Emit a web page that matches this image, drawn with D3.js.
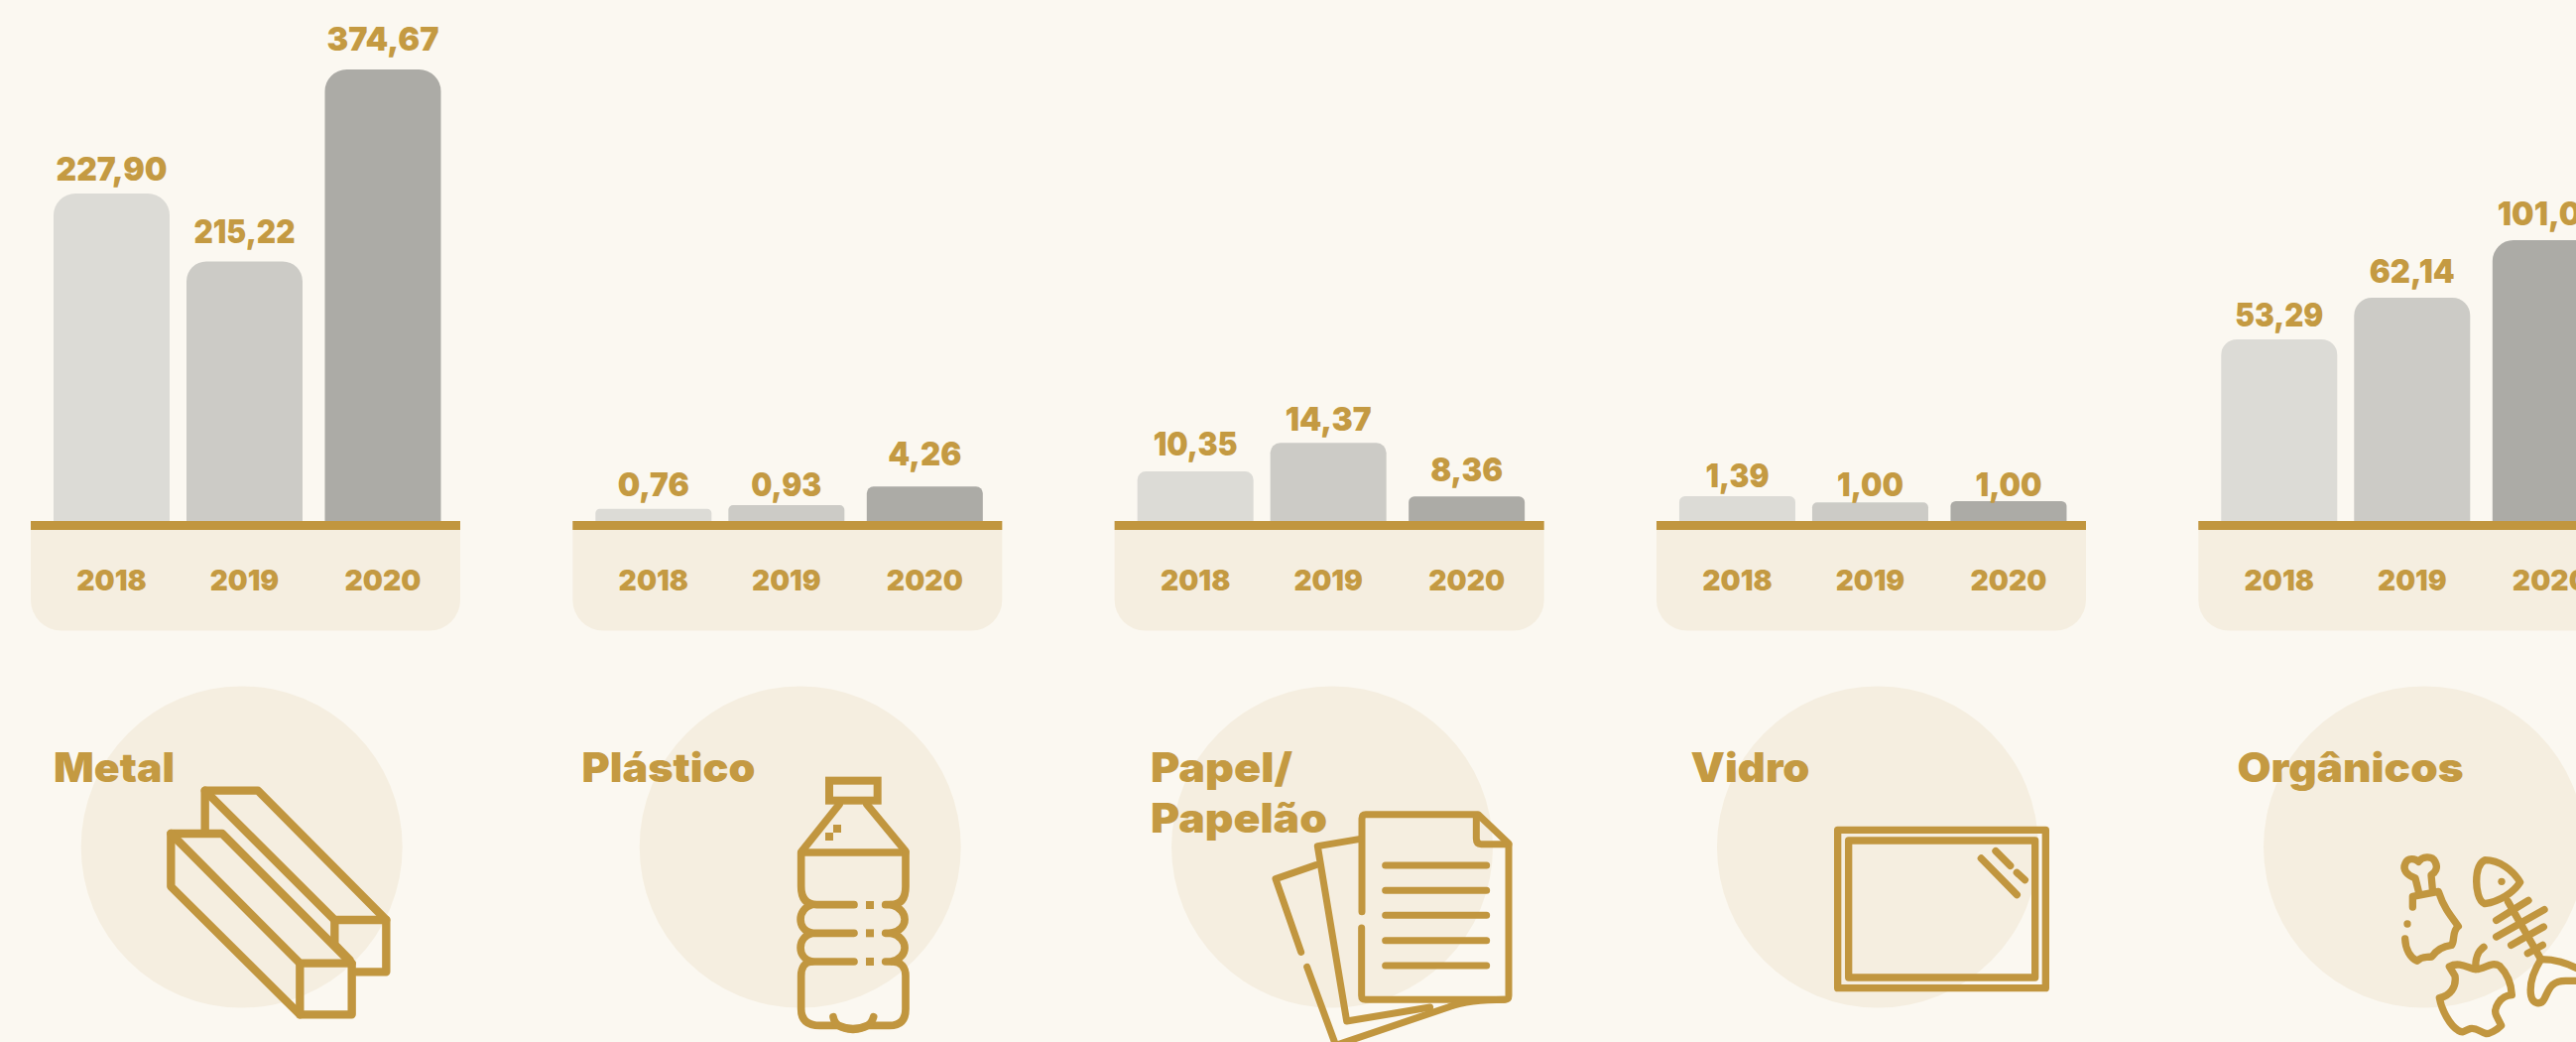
<!DOCTYPE html>
<html lang="pt">
<head>
<meta charset="utf-8">
<script src="https://cdn.jsdelivr.net/npm/d3@7/dist/d3.min.js"></script>
<style>
html,body{margin:0;padding:0;background:#fbf8f1;overflow:hidden}
svg{display:block}
text{font-family:Inter,"Open Sans",sans-serif;font-weight:900;fill:#c49a42}
</style>
</head>
<body>
<svg id="chart" width="2597" height="1050"></svg>
<script>
// ---- data ----
const years = ["2018", "2019", "2020"];
const categories = ["Metal", "Plástico", "Papel/\nPapelão", "Vidro", "Orgânicos"];
// printed values
const metalValues = [227.90, 215.22, 374.67];
const plasticValues = [0.76, 0.93, 4.26];
const paperValues = [10.35, 14.37, 8.36];
const glassValues = [1.39, 1.00, 1.00];
const organicValues = [53.29, 62.14, 101.00];
// drawn bar lengths (the reference's bars are not to scale with the printed values)
const metalBars = [330, 261.5, 455];
const plasticBars = [12.3, 16, 34.7];
const paperBars = [50, 78.7, 24.7];
const glassBars = [25, 18.7, 20];
const organicBars = [183, 225, 283];

const printed = [metalValues, plasticValues, paperValues, glassValues, organicValues];
const drawn = [metalBars, plasticBars, paperBars, glassBars, organicBars];

// ---- layout & style ----
const GOLD = "#c1963f", PALE = "#f5eee0";
const barColors = ["#dcdbd6", "#cccbc6", "#acaba6"];
const baseY = 525, axisH = 9, bandBottom = 635.5, bandW = 433, bandR = 31, barW = 117;
const yearBaseline = 594.5, circleR = 162, circleY = 853.5;
const panelX = d3.scaleLinear().domain([0, 4]).range([31, 2216.3]);
const barCenter = d3.scaleOrdinal().domain(years).range([81.5, 215.5, 355]);
const y = d3.scaleLinear().domain([0, 500]).range([baseY, baseY - 500]);
const radius = d3.scaleLinear().domain([0, 50, 300]).range([3, 8.5, 22]).clamp(true);
const comma = d3.formatLocale({decimal: ",", thousands: ".", grouping: [3], currency: ["", ""]}).format(".2f");
// gap between bar top and its value's baseline, as seen in the reference
const labelGaps = [[13, 18.5, 19], [12.7, 9, 21], [16, 12, 15], [9.3, 6, 5], [12.7, 14.6, 15]];
// rendered text widths, fitted to the reference's wider display face
const labelWidths = [[112, 102, 113], [72, 71, 74], [85, 87, 73], [64, 67, 67], [89, 86, 107]];
const yearWidths = [70.5, 69.5, 77];
const circleOffset = [212.7, 229.4, 219.4, 223, 227.7];
const titleX = [54, 586.5, 1160, 1704.5, 2255.5];
const titleWidths = [[122], [175], [143, 178], [120], [228]];

const svg = d3.select("#chart");
svg.append("rect").attr("width", 2597).attr("height", 1050).attr("fill", "#fbf8f1");

function topRounded(x, yTop, w, yBot, r) {
  const p = d3.path();
  p.moveTo(x, yBot);
  p.lineTo(x, yTop + r);
  p.arcTo(x, yTop, x + r, yTop, r);
  p.lineTo(x + w - r, yTop);
  p.arcTo(x + w, yTop, x + w, yTop + r, r);
  p.lineTo(x + w, yBot);
  p.closePath();
  return p.toString();
}
function bottomRounded(x, yTop, w, yBot, r) {
  const p = d3.path();
  p.moveTo(x, yTop);
  p.lineTo(x + w, yTop);
  p.lineTo(x + w, yBot - r);
  p.arcTo(x + w, yBot, x + w - r, yBot, r);
  p.lineTo(x + r, yBot);
  p.arcTo(x, yBot, x, yBot - r, r);
  p.closePath();
  return p.toString();
}

const panels = svg.selectAll("g.panel").data(categories).join("g").attr("class", "panel")
  .attr("transform", (d, i) => `translate(${panelX(i)},0)`);

panels.append("circle").attr("cx", (d, i) => circleOffset[i]).attr("cy", circleY).attr("r", circleR).attr("fill", PALE);
panels.append("path").attr("d", bottomRounded(0, baseY, bandW, bandBottom, bandR)).attr("fill", PALE);

panels.each(function (cat, i) {
  const g = d3.select(this);
  const rows = years.map((yr, j) => ({yr, j, v: printed[i][j], h: drawn[i][j]}));
  g.selectAll("path.bar").data(rows).join("path").attr("class", "bar")
    .attr("fill", d => barColors[d.j])
    .attr("d", d => topRounded(barCenter(d.yr) - barW / 2, y(d.h), barW, baseY, radius(d.h)));
  g.selectAll("text.value").data(rows).join("text").attr("class", "value")
    .attr("x", d => barCenter(d.yr)).attr("y", d => y(d.h) - labelGaps[i][d.j])
    .attr("text-anchor", "middle").attr("font-size", 33)
    .attr("textLength", d => labelWidths[i][d.j]).attr("lengthAdjust", "spacingAndGlyphs")
    .text(d => comma(d.v));
  g.selectAll("text.year").data(rows).join("text").attr("class", "year")
    .attr("x", d => barCenter(d.yr)).attr("y", yearBaseline)
    .attr("text-anchor", "middle").attr("font-size", 29)
    .attr("textLength", d => yearWidths[d.j]).attr("lengthAdjust", "spacingAndGlyphs")
    .text(d => d.yr);
});
panels.append("rect").attr("x", 0).attr("y", baseY).attr("width", bandW).attr("height", axisH).attr("fill", GOLD);

// ---- titles ----
categories.forEach((c, i) => {
  c.split("\n").forEach((line, k) => {
    svg.append("text").attr("x", titleX[i]).attr("y", 788 + k * 50.5)
      .attr("font-size", 41)
      .attr("textLength", titleWidths[i][k]).attr("lengthAdjust", "spacingAndGlyphs")
      .text(line);
  });
});

// ---- icons (decorative outlines, traced at 3x from the reference) ----
function icon(tx, ty, sw, paths, dots, squares) {
  const g = svg.append("g").attr("transform", `translate(${tx},${ty}) scale(${1 / 3})`)
    .attr("fill", "none").attr("stroke", GOLD).attr("stroke-width", sw)
    .attr("stroke-linecap", "round").attr("stroke-linejoin", "round");
  paths.forEach(d => g.append("path").attr("d", d));
  (dots || []).forEach(c => g.append("circle").attr("cx", c[0]).attr("cy", c[1]).attr("r", c[2]).attr("fill", GOLD).attr("stroke", "none"));
  (squares || []).forEach(s => g.append("rect").attr("x", s[0]).attr("y", s[1]).attr("width", s[2]).attr("height", s[2]).attr("fill", GOLD).attr("stroke", "none"));
}
// Metal
icon(40, 680, 25, [
  "M397,480 H552 L944,873 V1027 H787 L397,640 Z",
  "M397,480 L787,872 H944",
  "M787,872 V1027",
  "M500,468 V350 H660 L1048,741 V898 H958",
  "M500,350 L892,741 H1048",
  "M892,741 V815 L938,862"
]);
// Plástico
icon(570, 680, 23, [
  "M716,532 L828,392 M912,392 L1028,532",
  "M716,537 H1028",
  "M713,537 V640 Q713,695 760,695 H873",
  "M1029,537 V640 Q1029,695 985,695 H968",
  "M745,695 C700,710 700,770 745,781 H873",
  "M985,695 C1040,710 1040,770 985,781 H968",
  "M745,781 C700,795 700,855 745,867 H873",
  "M985,781 C1040,795 1040,855 985,867 H968",
  "M745,867 C725,867 713,885 713,910 V1010 Q713,1060 770,1060 H825 Q870,1080 915,1060 H980 Q1029,1060 1029,1010 V910 C1029,885 1015,867 990,867",
  "M810,1034 C815,1060 835,1070 870,1072 C905,1070 925,1060 932,1034"
], [], [[810, 453, 24], [786, 477, 24], [909, 684, 24], [909, 769, 24], [909, 855, 24]]);
svg.append("rect").attr("x", 570 + 798 / 3).attr("y", 680 + 320 / 3).attr("width", 146 / 3).attr("height", 60 / 3)
  .attr("fill", "none").attr("stroke", GOLD).attr("stroke-width", 8);
// Papel/Papelão
icon(1140, 720, 21, [
  "M699,596 V314 Q699,302 711,302 H1050 L1143,390 V850 Q1143,862 1130,862 H710 Q698,862 698,850 V645",
  "M1045,310 V375 Q1045,392 1060,392 H1143",
  "M770,456 H1076 M770,532 H1076 M770,607 H1076 M770,683 H1076 M770,759 H1076",
  "M690,377 L565,398 L653,927 L905,885",
  "M560,455 L438,497 L515,718",
  "M533,763 L620,1000 L960,885 C1000,870 1050,862 1130,862"
]);
// Vidro
icon(1800, 800, 22, [
  "M158,109 H787 V587 H158 Z",
  "M191,141 H755 V555 H191 Z",
  "M592,195 L700,305", "M636,173 L680,217", "M700,238 L724,260"
]);
// Orgânicos
icon(2320, 820, 22, [
  "M355,235 L345,195 C320,185 305,170 315,150 C322,132 345,135 355,145 C365,130 395,125 405,145 C415,165 405,178 393,185 L397,228",
  "M337,282 V250 L415,235 C430,280 445,300 475,340 C455,355 465,385 455,397 C430,400 410,410 395,432 C375,435 365,430 350,445 C330,435 315,410 314,378",
  "M555,140 C600,140 640,170 662,207 C640,240 600,265 555,272 C535,265 530,225 530,205 C530,180 535,150 555,140 Z",
  "M625,265 L725,440",
  "M590,322 L687,262", "M590,372 L735,290", "M635,397 L733,342", "M685,422 L730,397",
  "M725,440 C770,440 800,450 840,470",
  "M725,440 C700,480 690,520 695,550 C700,575 725,580 735,560 C750,530 755,505 800,505 H840",
  "M528,470 C525,440 535,415 552,403",
  "M448,462 C480,445 510,470 530,470 C555,470 575,445 600,460 C620,480 635,510 637,548 C600,550 580,590 590,610 L605,640 C590,655 570,665 560,665 C540,660 530,645 510,650 C495,655 490,665 475,655 C450,640 425,595 418,557 C450,550 470,525 465,490 Z"
], [[321, 333, 11], [606, 205, 11]]);
</script>
</body>
</html>
